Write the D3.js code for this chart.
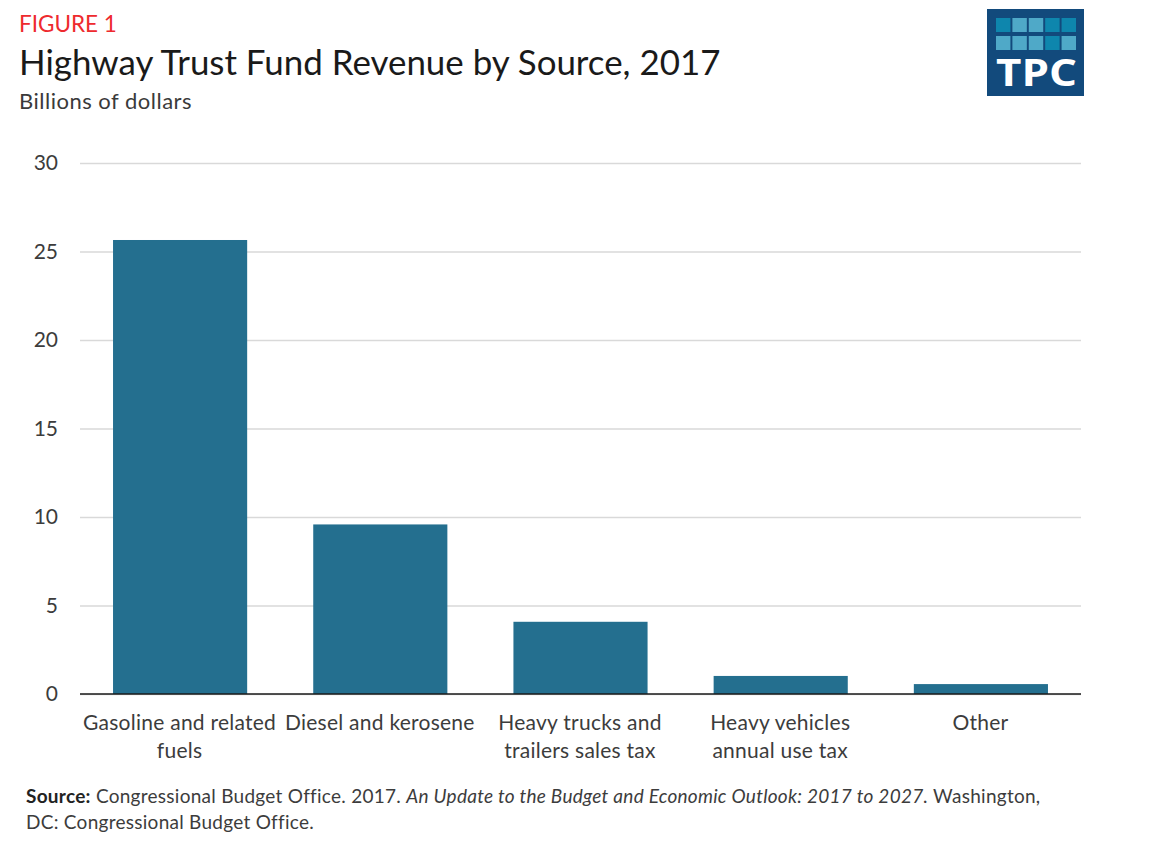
<!DOCTYPE html>
<html><head><meta charset="utf-8">
<script src="https://cdnjs.cloudflare.com/ajax/libs/d3/7.8.5/d3.min.js"></script>
<style>
html,body{margin:0;padding:0;background:#fff;overflow:hidden}
text{font-family:Lato,"Open Sans",sans-serif}
</style></head><body><div id="c"></div>
<script>
const categories = ["Gasoline and related fuels","Diesel and kerosene","Heavy trucks and trailers sales tax","Heavy vehicles annual use tax","Other"];
const categoryLines = [["Gasoline and related","fuels"],["Diesel and kerosene"],["Heavy trucks and","trailers sales tax"],["Heavy vehicles","annual use tax"],["Other"]];
const values = [25.65,9.58,4.08,1.02,0.56];
const yTicks = [0,5,10,15,20,25,30];
const logoRow1 = ["#0e86ad","#4fa9c8","#4fa9c8","#0e86ad","#0e86ad"];
const logoRow2 = ["#4fa9c8","#4fa9c8","#4fa9c8","#0e86ad","#4fa9c8"];

const svg = d3.select("#c").append("svg").attr("width",1149).attr("height",841);
const x = d3.scaleBand().domain(categories).range([80,1081]).paddingInner(0.33).paddingOuter(0.165);
const y = d3.scaleLinear().domain([0,30]).range([694,163]);

const gy = svg.append("g").attr("transform","translate(80,0)")
  .call(d3.axisLeft(y).tickValues(yTicks).tickSize(-1001).tickPadding(22));
gy.select(".domain").remove();
gy.selectAll(".tick line").attr("stroke","#d9d9d9").attr("stroke-width",1.5);
gy.selectAll(".tick text").attr("font-size",21).attr("fill","#3c3c3c").style("font-family","Lato");

svg.selectAll("rect.bar").data(categories).join("rect").attr("class","bar")
  .attr("x",d=>x(d)).attr("width",x.bandwidth())
  .attr("y",(d,i)=>y(values[i])).attr("height",(d,i)=>y(0)-y(values[i]))
  .attr("fill","#246f8f");

svg.append("line").attr("x1",80).attr("x2",1081).attr("y1",y(0)).attr("y2",y(0)).attr("stroke","#1a1a1a").attr("stroke-width",1.6);

categories.forEach((c,i)=>{
  categoryLines[i].forEach((l,j)=>{
    svg.append("text").attr("x",x(c)+x.bandwidth()/2-0.5).attr("y",730+j*28)
      .attr("text-anchor","middle").attr("font-size",21).attr("letter-spacing",0.25).attr("fill","#3c3c3c").text(l);
  });
});

svg.append("text").attr("x",19).attr("y",32).attr("font-size",22.5).attr("fill","#ee2a2e").text("FIGURE 1");
svg.append("text").attr("x",19).attr("y",75).attr("font-size",34.9).attr("fill","#1a1a1a").text("Highway Trust Fund Revenue by Source, 2017");
svg.append("text").attr("x",19).attr("y",109).attr("font-size",22).attr("letter-spacing",0.5).attr("fill","#3a3a3a").text("Billions of dollars");

const s1 = svg.append("text").attr("x",26).attr("y",803).attr("font-size",19).attr("letter-spacing",0.27).attr("fill","#3c3c3c");
s1.append("tspan").attr("font-weight",700).attr("fill","#222").text("Source:");
s1.append("tspan").text(" Congressional Budget Office. 2017. ");
s1.append("tspan").attr("font-style","italic").text("An Update to the Budget and Economic Outlook: 2017 to 2027.");
s1.append("tspan").text(" Washington,");
svg.append("text").attr("x",26).attr("y",829).attr("font-size",19).attr("letter-spacing",0.27).attr("fill","#3c3c3c").text("DC: Congressional Budget Office.");

const logo = svg.append("g");
logo.append("rect").attr("x",987).attr("y",9).attr("width",97).attr("height",87).attr("fill","#124a7c");
const lx = d3.scaleBand().domain(d3.range(5)).range([996,1076]).paddingInner(0.12);
[logoRow1,logoRow2].forEach((row,r)=>{
  logo.selectAll("rect.r"+r).data(row).join("rect").attr("class","r"+r)
    .attr("x",(d,i)=>lx(i)).attr("y",18+r*18).attr("width",lx.bandwidth()).attr("height",14).attr("fill",d=>d);
});
logo.append("text").attr("x",996).attr("y",86).attr("font-size",38).attr("font-weight",700)
  .attr("textLength",81).attr("lengthAdjust","spacingAndGlyphs").attr("fill","#fff").style("font-family","Open Sans").text("TPC");
</script></body></html>
